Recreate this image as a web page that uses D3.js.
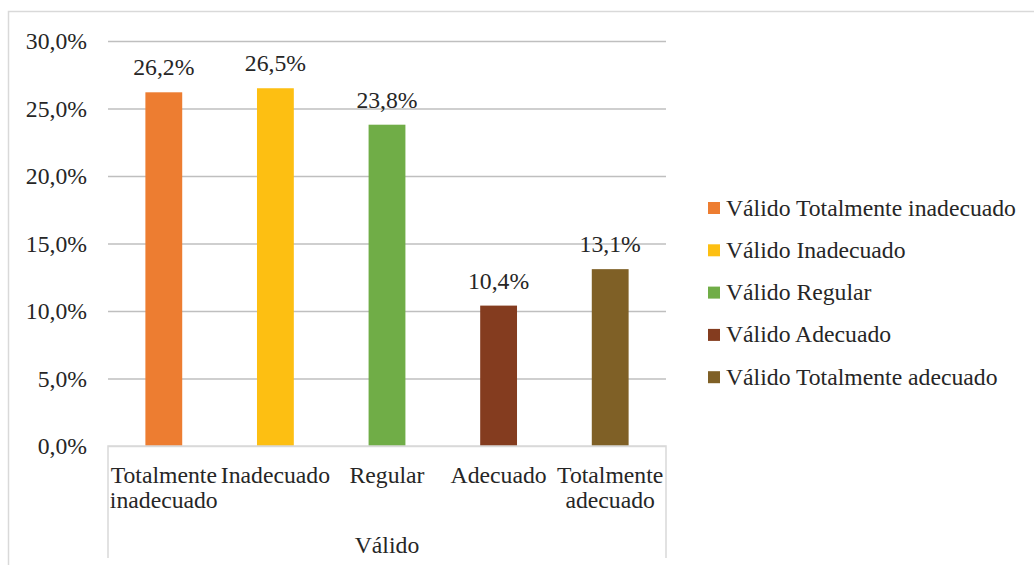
<!DOCTYPE html>
<html>
<head>
<meta charset="utf-8">
<script src="https://cdn.jsdelivr.net/npm/d3@7"></script>
<style>
  html, body { margin: 0; padding: 0; background: #fff; }
</style>
</head>
<body>
<div id="graph"></div>
<script>
(function(){
	"use strict";

	// chart values
	var categories = ["Totalmente inadecuado", "Inadecuado", "Regular", "Adecuado", "Totalmente adecuado"];
	var values = [26.2, 26.5, 23.8, 10.4, 13.1];
	var groupLabel = "Válido";
	var yTicks = [0, 5, 10, 15, 20, 25, 30];
	var colors = ["#ED7D31", "#FDBF12", "#70AD47", "#843C1F", "#7F6026"];

	var W = 1034, H = 565;
	var margin = {top: 41, left: 108};
	var width = 558, height = 405;
	var fontSize = "23.7px";
	var serif = "'Liberation Serif', 'Times New Roman', serif";
	var ink = "#262626";

	// comma decimals, like the original
	var locale = d3.formatLocale({decimal: ",", thousands: ".", grouping: [3], currency: ["", ""]});
	var fmt = locale.format(".1f");

	var svg = d3.select("#graph").append("svg")
		.attr("width", W)
		.attr("height", H);

	//outer chart border (runs off the right and bottom edges)
	svg.append("rect")
		.attr("x", 8.5).attr("y", 11.5)
		.attr("width", 1200).attr("height", 700)
		.attr("fill", "none")
		.attr("stroke", "#d9d9d9")
		.attr("stroke-width", 1.5);

	var g = svg.append("g").attr("transform", "translate(" + margin.left + "," + margin.top + ")");

	var x = d3.scaleBand()
		.domain(categories)
		.range([0, width])
		.paddingInner(0.67)
		.paddingOuter(0.335);

	var y = d3.scaleLinear()
		.domain([0, 30])
		.range([height, 0]);

	//gridlines + tick labels
	var yAxis = g.append("g")
		.attr("class", "axis axis--y")
		.call(d3.axisLeft(y).tickValues(yTicks).tickSize(-width).tickPadding(21)
			.tickFormat(function(d) { return fmt(d) + "%"; }));
	yAxis.select(".domain").remove();
	yAxis.selectAll(".tick line")
		.attr("stroke", function(d) { return d === 0 ? "#d9d9d9" : "#bfbfbf"; })
		.attr("stroke-width", 1.5);
	yAxis.selectAll(".tick text")
		.attr("dy", "0.32em");

	//bars
	g.selectAll(".bar")
		.data(values)
		.enter().append("rect")
		.attr("class", "bar")
		.attr("x", function(d, i) { return x(categories[i]); })
		.attr("y", function(d) { return y(d); })
		.attr("width", x.bandwidth())
		.attr("height", function(d) { return y(0) - y(d); })
		.attr("fill", function(d, i) { return colors[i]; });

	//value labels
	g.selectAll(".value")
		.data(values)
		.enter().append("text")
		.attr("class", "value")
		.attr("x", function(d, i) { return x(categories[i]) + x.bandwidth() / 2; })
		.attr("y", function(d) { return y(d) - 17; })
		.attr("text-anchor", "middle")
		.text(function(d) { return fmt(d) + "%"; });

	//multi-level category axis: box lines
	var axisBottom = height + 112;
	g.append("path")
		.attr("d", "M0," + axisBottom + "V" + height + "H" + width + "V" + axisBottom)
		.attr("fill", "none")
		.attr("stroke", "#d9d9d9")
		.attr("stroke-width", 1.5);

	//category labels, one word per line
	var labels = g.selectAll(".cat")
		.data(categories)
		.enter().append("text")
		.attr("class", "cat")
		.attr("text-anchor", "middle");
	labels.each(function(d) {
		var t = d3.select(this);
		d.split(" ").forEach(function(w, k) {
			t.append("tspan")
				.attr("x", x(d) + x.bandwidth() / 2)
				.attr("y", height + 37 + k * 25)
				.text(w);
		});
	});

	//group label
	g.append("text")
		.attr("x", width / 2)
		.attr("y", height + 107)
		.attr("text-anchor", "middle")
		.text(groupLabel);

	//legend
	var legend = svg.selectAll(".legend")
		.data(categories)
		.enter().append("g")
		.attr("class", "legend")
		.attr("transform", function(d, i) { return "translate(708," + (208 + i * 42.3) + ")"; });

	legend.append("rect")
		.attr("x", 0)
		.attr("y", -6)
		.attr("width", 12)
		.attr("height", 12)
		.attr("fill", function(d, i) { return colors[i]; });

	legend.append("text")
		.attr("x", 18)
		.attr("y", 7.5)
		.text(function(d) { return groupLabel + " " + d; });

	//same serif face on every text
	svg.selectAll("text")
		.style("font-family", serif)
		.style("font-size", fontSize)
		.style("fill", ink);

})();
</script>
</body>
</html>
